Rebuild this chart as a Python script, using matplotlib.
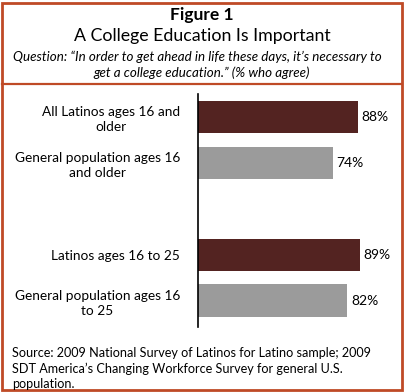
import matplotlib.pyplot as plt
from matplotlib.patches import Rectangle
from matplotlib.lines import Line2D

labels = ["All Latinos ages 16 and\nolder",
          "General population ages 16\nand older",
          "Latinos ages 16 to 25",
          "General population ages 16\nto 25"]
values = [88, 74, 89, 82]
positions = [0, 1, 3, 4]
colors = ["#532321", "#9b9b9b", "#532321", "#9b9b9b"]

W, H = 405, 392
plt.rcParams['font.family'] = ['Lato', 'DejaVu Sans']

fig = plt.figure(figsize=(W / 100, H / 100), dpi=100)

# border and separator
edge = "#bf4a26"
fig.patches.append(Rectangle((2 / W, 2 / H), 400 / W, 387 / H, transform=fig.transFigure,
                             fill=False, edgecolor=edge, linewidth=2))
fig.lines.append(Line2D([2 / W, 402 / W], [1 - 84 / H, 1 - 84 / H], transform=fig.transFigure,
                        color=edge, linewidth=1.6))

# titles
fig.text(202 / W, 1 - 15 / H, "Figure 1", ha="center", va="center", fontsize=12.5, fontweight="bold")
fig.text(202 / W, 1 - 36 / H, "A College Education Is Important", ha="center", va="center", fontsize=12.8)
fig.text(197 / W, 1 - 57 / H, "Question: \u201cIn order to get ahead in life these days, it\u2019s necessary to",
         ha="center", va="center", fontsize=9.6, style="italic")
fig.text(202 / W, 1 - 73 / H, "get a college education.\u201d (% who agree)",
         ha="center", va="center", fontsize=9.6, style="italic")

ax = fig.add_axes([198 / W, 1 - 327 / H, 182 / W, 233 / H])
ax.barh(positions, values, height=0.71, color=colors)
ax.set_xlim(0, 100)
ax.set_ylim(4.57, -0.5)
for s in ["top", "right", "bottom"]:
    ax.spines[s].set_visible(False)
ax.spines["left"].set_linewidth(1.2)
ax.set_xticks([])
ax.set_yticks(positions)
ax.set_yticklabels(labels, fontsize=9.8, linespacing=1.3, multialignment="center")
ax.tick_params(axis="y", length=0, pad=13)
for p, v in zip(positions, values):
    ax.text(v + 2, p, f"{v}%", va="center", ha="left", fontsize=10)

fig.text(12 / W, 1 - 347 / H,
         "Source: 2009 National Survey of Latinos for Latino sample; 2009\n"
         "SDT America\u2019s Changing Workforce Survey for general U.S.\n"
         "population.",
         ha="left", va="top", fontsize=9.1, linespacing=1.3)

fig.savefig("out.png", dpi=100)
